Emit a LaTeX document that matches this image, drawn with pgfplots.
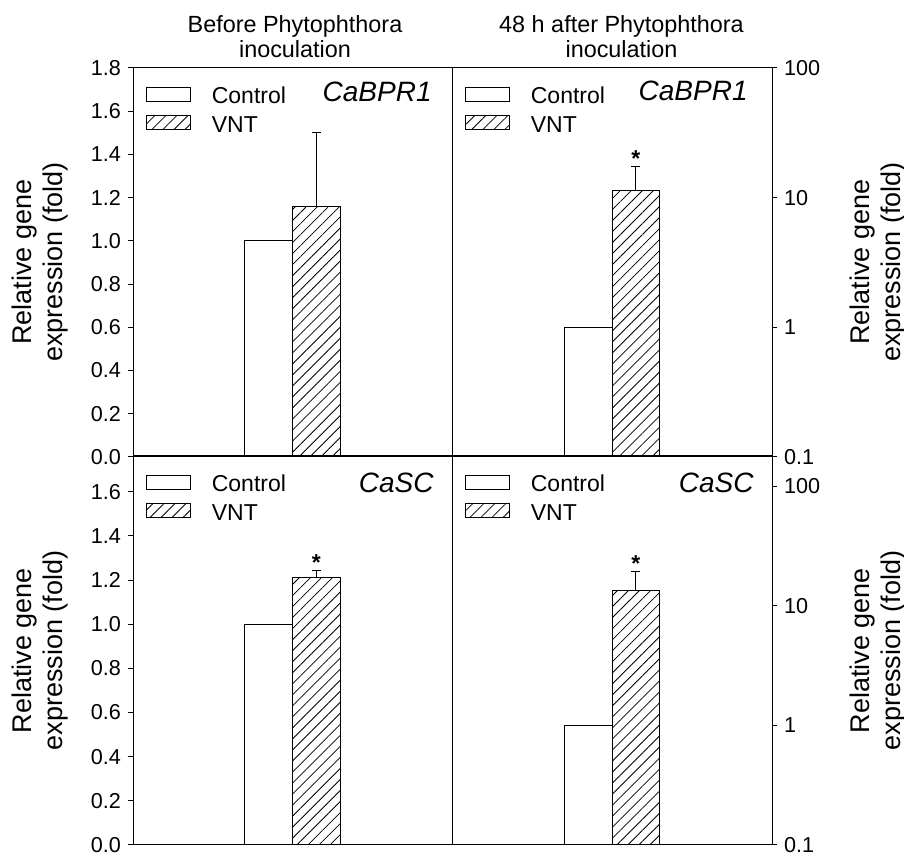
\documentclass[border=0pt]{standalone}
\usepackage{fontspec}
\setmainfont{Liberation Sans}
\usepackage{pgfplots}
\pgfplotsset{compat=1.18}
\usetikzlibrary{patterns.meta}

% tick labels are boxed so that the size change also holds in math mode
\newcommand\tl[1]{\hbox{\fontsize{10.8}{12}\selectfont #1}}

\pgfplotsset{
  panel/.style={
    scale only axis, height=194.5pt,
    xmin=0, xmax=1, xtick=\empty,
    axis line style={line width=0.5pt},
    every tick/.style={black, line width=0.5pt},
    tick align=outside, major tick length=2.5pt,
    legend style={at={(rel axis cs:0.039,0.953)}, anchor=north west,
      draw=none, fill=none, inner sep=0pt, column sep=10.5pt, row sep=3.5pt,
      font=\fontsize{11.5}{13}\selectfont,
      nodes={inner sep=0pt, text height=8.5pt, text depth=2pt}},
    legend cell align=left,
  },
  linpanel/.style={ytick pos=left,
    yticklabels={\tl{0.0},\tl{0.2},\tl{0.4},\tl{0.6},\tl{0.8},\tl{1.0},\tl{1.2},
      \tl{1.4},\tl{1.6},\tl{1.8}}},
  logpanel/.style={ytick pos=right, yticklabel pos=right,
    yticklabels={\tl{0.1},\tl{1},\tl{10},\tl{100}}},
  ctrl/.style={ybar, bar width=0.149, bar shift=0pt, draw=black, fill=white,
    line width=0.5pt,
    legend image code/.code={\draw[draw=black, fill=white, line width=0.5pt] (0pt,-1.9pt) rectangle (22pt,5.1pt);}},
  vnt/.style={ybar, bar width=0.149, bar shift=0pt, draw=black, line width=0.5pt,
    pattern={Lines[angle=45,distance=3.9pt,line width=0.4pt]},
    legend image code/.code={\draw[draw=black, line width=0.5pt,
      pattern={Lines[angle=45,distance=3.9pt,line width=0.4pt]}] (0pt,-1.9pt) rectangle (22pt,5.1pt);},
    error bars/y dir=plus, error bars/y explicit,
    error bars/error bar style={line width=0.5pt, black},
    error bars/error mark options={rotate=90, mark size=2.25pt, line width=0.5pt, black}},
}
\tikzset{
  star/.style={anchor=base, font=\bfseries\fontsize{11.5}{13}\selectfont},
  gene/.style={anchor=base east, inner sep=0pt, font=\itshape\fontsize{14}{16}\selectfont},
}

\begin{document}
\begin{tikzpicture}
\useasboundingbox (0,0) rectangle (452pt,427.5pt);

% column titles
\node[anchor=base, font=\fontsize{11.7}{13}\selectfont] at (147.5pt,411pt) {Before Phytophthora};
\node[anchor=base, font=\fontsize{11.7}{13}\selectfont] at (147.5pt,398.5pt) {inoculation};
\node[anchor=base, font=\fontsize{11.7}{13}\selectfont] at (310.75pt,411pt) {48 h after Phytophthora};
\node[anchor=base, font=\fontsize{11.7}{13}\selectfont] at (310.75pt,398.5pt) {inoculation};

% y-axis labels
\foreach \yy in {296.5pt,102.25pt}{
  \node[rotate=90, align=center, font=\fontsize{13.5}{15.5}\selectfont] at (20pt,\yy)
    {Relative gene\\expression (fold)};
  \node[rotate=90, align=center, font=\fontsize{13.5}{15.5}\selectfont] at (439pt,\yy)
    {Relative gene\\expression (fold)};
}

% CaBPR1, before inoculation
\begin{axis}[panel, width=159.5pt, at={(66.5pt,199pt)}, anchor=south west,
  ymin=0, ymax=1.8, ytick={0,0.2,0.4,0.6,0.8,1.0,1.2,1.4,1.6,1.8}, linpanel]
  \addplot[ctrl] coordinates {(0.4255,1.0)};
  \addlegendentry{Control}
  \addplot[vnt] coordinates {(0.5745,1.16) +- (0,0.34)};
  \addlegendentry{VNT}
  \node[gene] at (rel axis cs:1,1) [xshift=-10pt, yshift=-16.8pt] {CaBPR1};
\end{axis}

% CaBPR1, 48 h after inoculation
\begin{axis}[panel, width=160pt, at={(226pt,199pt)}, anchor=south west,
  ymode=log, ymin=0.1, ymax=100, yminorticks=false, log origin y=infty,
  ytick={0.1,1,10,100}, logpanel]
  \addplot[ctrl] coordinates {(0.4255,1.0)};
  \addlegendentry{Control}
  \addplot[vnt] coordinates {(0.5745,11.4) +- (0,5.9)};
  \addlegendentry{VNT}
  \node[star] at (axis cs:0.5745,17.3) {*};
  \node[gene] at (rel axis cs:1,1) [xshift=-12pt, yshift=-16.4pt] {CaBPR1};
\end{axis}

% CaSC, before inoculation
\begin{axis}[panel, width=159.5pt, at={(66.5pt,5pt)}, anchor=south west,
  ymin=0, ymax=1.762, ytick={0,0.2,0.4,0.6,0.8,1.0,1.2,1.4,1.6}, linpanel]
  \addplot[ctrl] coordinates {(0.4255,1.0)};
  \addlegendentry{Control}
  \addplot[vnt] coordinates {(0.5745,1.212) +- (0,0.03)};
  \addlegendentry{VNT}
  \node[star] at (axis cs:0.5745,1.242) {*};
  \node[gene] at (rel axis cs:1,1) [xshift=-9pt, yshift=-18.2pt] {CaSC};
\end{axis}

% CaSC, 48 h after inoculation
\begin{axis}[panel, width=160pt, at={(226pt,5pt)}, anchor=south west,
  ymode=log, ymin=0.1, ymax=180, yminorticks=false, log origin y=infty,
  ytick={0.1,1,10,100}, logpanel]
  \addplot[ctrl] coordinates {(0.4255,1.0)};
  \addlegendentry{Control}
  \addplot[vnt] coordinates {(0.5745,13.4) +- (0,6.0)};
  \addlegendentry{VNT}
  \node[star] at (axis cs:0.5745,19.4) {*};
  \node[gene] at (rel axis cs:1,1) [xshift=-9pt, yshift=-18.2pt] {CaSC};
\end{axis}
\end{tikzpicture}
\end{document}
